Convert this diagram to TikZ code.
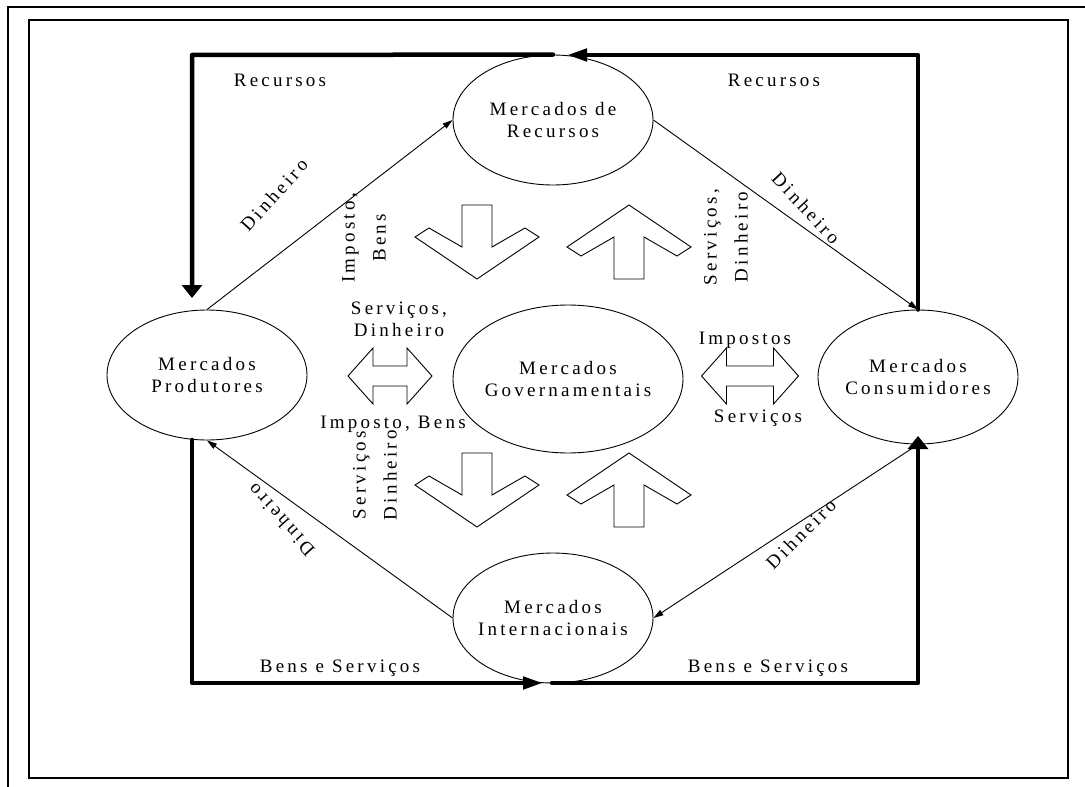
\documentclass[tikz,border=0pt]{standalone}
\usepackage{fontspec}
\setmainfont{Liberation Serif}
\newfontfamily\spaced{Liberation Serif}[LetterSpace=17]
\usetikzlibrary{arrows.meta,shapes.geometric}

\tikzset{
  lbl/.style={font=\spaced\fontsize{19}{22}\selectfont, inner sep=0pt, align=center},
  rotlbl/.style={font=\spaced\fontsize{19}{31}\selectfont, inner sep=0pt, align=center, rotate=90},
  market/.style={ellipse, draw, line width=0.9pt, inner sep=-12pt, align=center,
    font=\spaced\fontsize{19}{22}\selectfont},
  flow/.style={line width=0.9pt, -{Triangle[length=10pt,width=6pt]}},
  heavy/.style={line width=4.5pt, line join=round, line cap=round},
  hhead/.style={-{Triangle[length=20pt,width=12pt]}},
  vhead/.style={-{Triangle[length=13pt,width=20pt]}},
  block/.style={draw, fill=white, line width=0.9pt, line join=miter},
  frame/.style={line width=1.6pt},
  pics/downblock/.style={code={
    \draw[block] (-15,0) -- (15,0) -- (15,42) -- (48,23) -- (62,32) -- (0,74)
      -- (-62,32) -- (-48,23) -- (-15,42) -- cycle;}},
  pics/upblock/.style={code={
    \draw[block] (-15,74) -- (15,74) -- (15,32) -- (48,51) -- (62,42) -- (0,0)
      -- (-62,42) -- (-48,51) -- (-15,32) -- cycle;}},
  pics/sideblock/.style={code={
    \draw[block] ({-#1-25},0) -- (-#1,-28) -- (-#1,-10) -- (#1,-10) -- (#1,-28)
      -- ({#1+25},0) -- (#1,28) -- (#1,10) -- (-#1,10) -- (-#1,28) -- cycle;}},
}

\begin{document}
\begin{tikzpicture}[x=1pt,y=-1pt]
\useasboundingbox (0,0) rectangle (1085,787);

% frames
\draw[frame] (8,787) -- (8,7) -- (1085,7);
\draw[frame] (29,20) rectangle (1068,778);

% markets
\node[market, minimum width=200pt, minimum height=130pt] (rec) at (553,120) {Mercados de\\Recursos};
\node[market, minimum width=200pt, minimum height=130pt] (prod) at (207,375) {Mercados\\Produtores};
\node[market, minimum width=230pt, minimum height=148pt] (gov) at (568,379) {Mercados\\Governamentais};
\node[market, minimum width=200pt, minimum height=134pt] (cons) at (918,377) {Mercados\\Consumidores};
\node[market, minimum width=200pt, minimum height=130pt] (int) at (553,618) {Mercados\\Internacionais};

% thin money flows
\draw[flow] (prod.north) -- (rec.west);
\draw[flow] (rec.east) -- (cons.north);
\draw[flow] (int.west) -- (prod.south);
\draw[flow] (cons.south) -- (int.east);

% heavy outer loop
\coordinate (tl) at (192,55);
\coordinate (tr) at (918,55);
\coordinate (bl) at (192,683);
\coordinate (br) at (918,683);
\coordinate (prodin) at (192,298);
\coordinate (recin) at (567,55);
\coordinate (prodout) at (192,440);
\coordinate (intin) at (543,683);
\coordinate (intout) at (552,683);
\coordinate (consin) at (918,436);

\draw[heavy, vhead] (rec.north) -- (tl) -- (prodin);
\draw[heavy, hhead] (cons.north) -- (tr) -- (recin);
\draw[heavy, hhead] (prodout) -- (bl) -- (intin);
\draw[heavy, vhead] (intout) -- (br) -- (consin);

% block arrows
\pic at (477,205) {downblock};
\pic at (629,205) {upblock};
\pic at (477,453) {downblock};
\pic at (629,453) {upblock};
\pic at (390,376) {sideblock=17};
\pic at (750,376) {sideblock=23.5};

% labels
\node[lbl, anchor=base] (recl) at (280,86) {Recursos};
\node[lbl, anchor=base] (recr) at (774,86) {Recursos};
\node[lbl, rotate=48] (dtl) at (274,195) {Dinheiro};
\node[lbl, rotate=-47] (dtr) at (806,208) {Dinheiro};
\node[lbl, rotate=132] (dbl) at (281,520) {Dinheiro};
\node[lbl, rotate=45] (dbr) at (801,534) {Dihneiro};
\node[rotlbl] (ib) at (364,238) {Imposto,\\Bens};
\node[rotlbl] (sdr) at (726,237) {Serviços,\\Dinheiro};
\node[rotlbl] (sdl) at (375,475) {Serviços\\Dinheiro};
\node[lbl] (sdm) at (399,319.5) {Serviços,\\Dinheiro};
\node[lbl, anchor=base] (ibm) at (393,428) {Imposto, Bens};
\node[lbl, anchor=base] (imp) at (745,344) {Impostos};
\node[lbl, anchor=base] (serv) at (758,422) {Serviços};
\node[lbl, anchor=base] (bsl) at (340,672) {Bens e Serviços};
\node[lbl, anchor=base] (bsr) at (768,672) {Bens e Serviços};
\end{tikzpicture}
\end{document}
